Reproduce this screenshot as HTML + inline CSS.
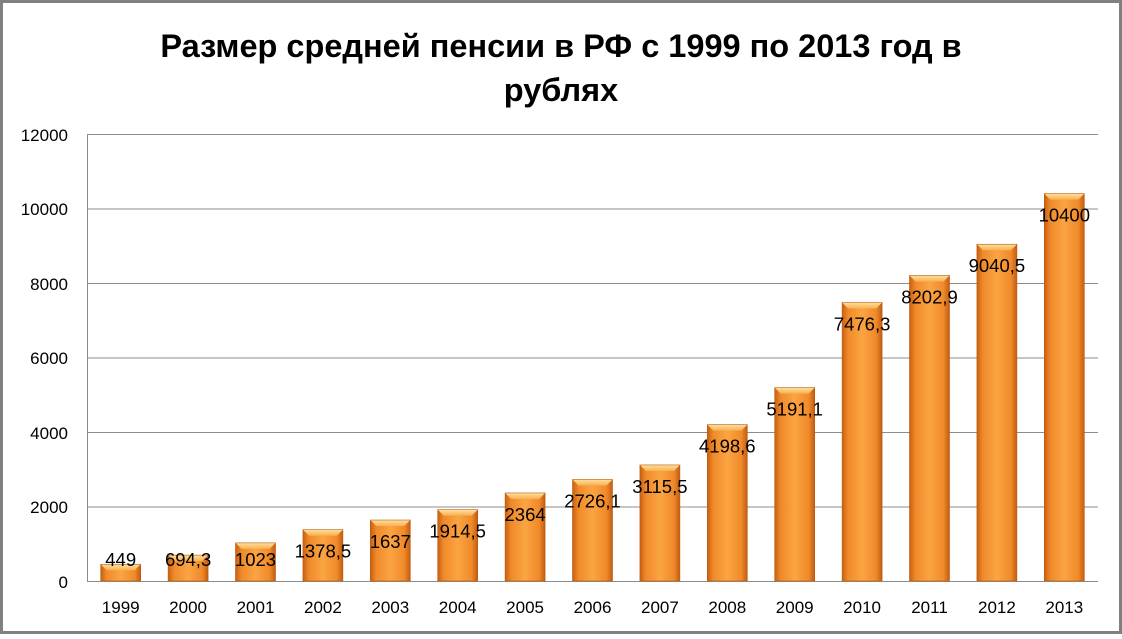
<!DOCTYPE html><html><head><meta charset="utf-8"><style>body{margin:0;background:#fff}</style></head><body>
<svg width="1122" height="634" xmlns="http://www.w3.org/2000/svg" font-family="Liberation Sans, sans-serif">
<defs>
<linearGradient id="g" x1="0" x2="1" y1="0" y2="0">
<stop offset="0" stop-color="#c8600f"/><stop offset="0.15" stop-color="#f08a2a"/><stop offset="0.5" stop-color="#fba443"/><stop offset="0.85" stop-color="#f08a2a"/><stop offset="1" stop-color="#c25c10"/></linearGradient>
<linearGradient id="t" x1="0" x2="0" y1="0" y2="1"><stop offset="0" stop-color="#fde0a0"/><stop offset="1" stop-color="#f9b050"/></linearGradient>
</defs>
<rect x="1.5" y="1.5" width="1119" height="631" fill="#fff" stroke="#808080" stroke-width="3"/>
<text x="561" y="57" text-anchor="middle" font-size="32.5" font-weight="bold">Размер средней пенсии в РФ с 1999 по 2013 год в</text>
<text x="561" y="101" text-anchor="middle" font-size="32.5" font-weight="bold">рублях</text>
<g stroke="#8c8c8c" stroke-width="1">
<line x1="87" x2="1098" y1="134.5" y2="134.5"/><line x1="87" x2="1098" y1="209" y2="209"/><line x1="87" x2="1098" y1="283.5" y2="283.5"/><line x1="87" x2="1098" y1="358" y2="358"/><line x1="87" x2="1098" y1="432.5" y2="432.5"/><line x1="87" x2="1098" y1="507" y2="507"/><line x1="87" x2="1098" y1="581.5" y2="581.5"/><line x1="87.5" x2="87.5" y1="134" y2="581"/>
</g>
<g font-size="17" text-anchor="end">
<text x="68" y="141">12000</text><text x="68" y="215">10000</text><text x="68" y="290">8000</text><text x="68" y="364">6000</text><text x="68" y="439">4000</text><text x="68" y="513">2000</text><text x="68" y="588">0</text>
</g>
<g id="bars"></g>
</svg>
<script>
var d=[[1999,449,"449"],[2000,694.3,"694,3"],[2001,1023,"1023"],[2002,1378.5,"1378,5"],[2003,1637,"1637"],[2004,1914.5,"1914,5"],[2005,2364,"2364"],[2006,2726.1,"2726,1"],[2007,3115.5,"3115,5"],[2008,4198.6,"4198,6"],[2009,5191.1,"5191,1"],[2010,7476.3,"7476,3"],[2011,8202.9,"8202,9"],[2012,9040.5,"9040,5"],[2013,10400,"10400"]];
var s="";d.forEach(function(r,i){var cx=87+67.4*(i+0.5),x=cx-20,top=581-r[1]*0.03725,h=581-top;
s+='<rect x="'+x+'" y="'+top+'" width="40" height="'+h+'" fill="url(#g)"/>';
var b=Math.min(6,h/2);
s+='<polygon points="'+x+','+top+' '+(x+40)+','+top+' '+(x+34)+','+(top+b)+' '+(x+6)+','+(top+b)+'" fill="url(#t)"/>';
s+='<rect x="'+x+'" y="'+top+'" width="40" height="'+h+'" fill="none" stroke="#b85a10" stroke-width="0.6"/>';
var ly=Math.min(top+22,560)+6;
s+='<text x="'+cx+'" y="'+ly+'" text-anchor="middle" font-size="18.5">'+r[2]+'</text>';
s+='<text x="'+cx+'" y="613" text-anchor="middle" font-size="17">'+r[0]+'</text>';});
document.getElementById("bars").innerHTML=s;
</script>
</body></html>
